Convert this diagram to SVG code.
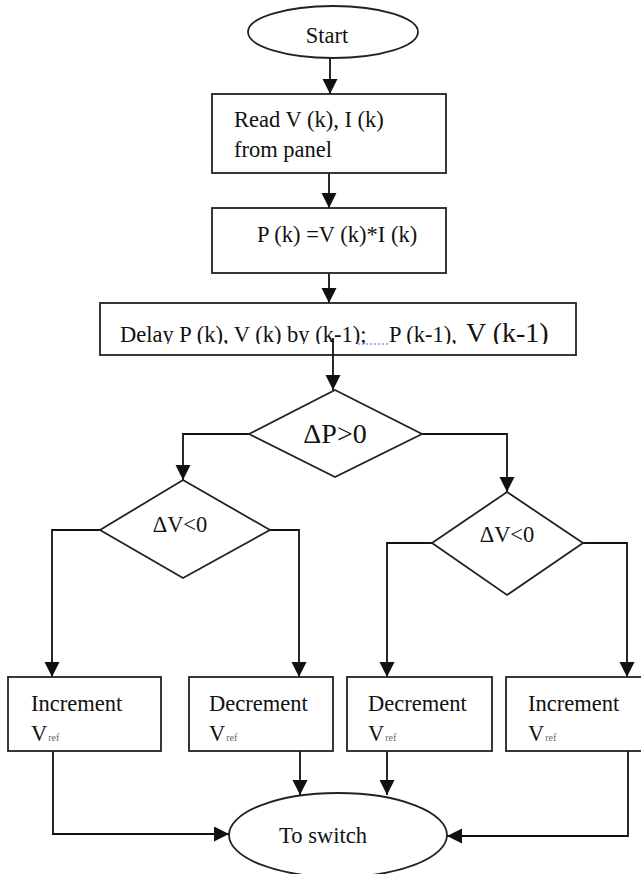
<svg xmlns="http://www.w3.org/2000/svg" width="641" height="874" viewBox="0 0 641 874">
<style>
.shape{fill:#fff;stroke:#222;stroke-width:1.8}
.conn{fill:none;stroke:#111;stroke-width:1.8}
text{font-family:"Liberation Serif","Times New Roman",serif;font-size:22.5px;fill:#111}
.big{font-size:28px}
.sub{font-size:10px;fill:#666}
</style>
<defs>
<marker id="arr" markerUnits="userSpaceOnUse" markerWidth="16" markerHeight="16" refX="15" refY="7.5" orient="auto">
<path d="M0,0 L15,7.5 L0,15 Z" fill="#111"/>
</marker>
<clipPath id="clipDelay"><rect x="100" y="303" width="476" height="41"/></clipPath>
</defs>
<rect width="641" height="874" fill="#fff"/>
<g id="connectors">
<path class="conn" d="M330,58 V94" marker-end="url(#arr)"/>
<path class="conn" d="M329,173 V208" marker-end="url(#arr)"/>
<path class="conn" d="M329,273 V303" marker-end="url(#arr)"/>
<path class="conn" d="M333,338 V390" marker-end="url(#arr)"/>
<path class="conn" d="M249,434 H183 V480" marker-end="url(#arr)"/>
<path class="conn" d="M422,434 H507 V492" marker-end="url(#arr)"/>
<path class="conn" d="M100,530 H52 V677" marker-end="url(#arr)"/>
<path class="conn" d="M270,530 H299 V677" marker-end="url(#arr)"/>
<path class="conn" d="M432,543 H387 V677" marker-end="url(#arr)"/>
<path class="conn" d="M583,543 H627 V677" marker-end="url(#arr)"/>
<path class="conn" d="M53,751 V834 H229" marker-end="url(#arr)"/>
<path class="conn" d="M300,751 V795" marker-end="url(#arr)"/>
<path class="conn" d="M387,751 V795" marker-end="url(#arr)"/>
<path class="conn" d="M628,751 V836 H447" marker-end="url(#arr)"/>
</g>
<g id="start">
<ellipse class="shape" cx="333" cy="32" rx="85" ry="26"/>
<text x="327" y="43" text-anchor="middle">Start</text>
</g>
<g id="read">
<rect class="shape" x="212" y="94" width="234" height="79"/>
<text x="234" y="127">Read V (k), I (k)</text>
<text x="234" y="157">from panel</text>
</g>
<g id="power">
<rect class="shape" x="212" y="208" width="234" height="65"/>
<text x="257" y="242">P (k) =V (k)*I (k)</text>
</g>
<g id="delay">
<rect class="shape" x="100" y="303" width="476" height="52"/>
<g clip-path="url(#clipDelay)">
<text x="120" y="342">Delay P (k), V (k) by (k-1);<tspan x="389">P (k-1), </tspan><tspan class="big" x="466">V (k-1)</tspan></text>
</g>
<path d="M358,344 H389" stroke="#3a6fe0" stroke-width="1" stroke-dasharray="2,2" fill="none"/>
<path class="conn" d="M333,338 V355"/>
</g>
<g id="dp">
<polygon class="shape" points="335,390 422,434 335,477 249,434"/>
<text class="big" x="335" y="443" text-anchor="middle">ΔP&gt;0</text>
</g>
<g id="dv-left">
<polygon class="shape" points="183,480 270,530 183,578 100,530"/>
<text x="180" y="532" text-anchor="middle">ΔV&lt;0</text>
</g>
<g id="dv-right">
<polygon class="shape" points="507,492 583,543 507,595 432,543"/>
<text x="507" y="542" text-anchor="middle">ΔV&lt;0</text>
</g>
<g id="inc-left">
<rect class="shape" x="8" y="677" width="153" height="74"/>
<text x="31" y="711">Increment</text>
<text x="31" y="741">V<tspan class="sub" dx="1">ref</tspan></text>
</g>
<g id="dec-left">
<rect class="shape" x="189" y="677" width="144" height="74"/>
<text x="209" y="711">Decrement</text>
<text x="209" y="741">V<tspan class="sub" dx="1">ref</tspan></text>
</g>
<g id="dec-right">
<rect class="shape" x="347" y="677" width="145" height="74"/>
<text x="368" y="711">Decrement</text>
<text x="368" y="741">V<tspan class="sub" dx="1">ref</tspan></text>
</g>
<g id="inc-right">
<rect class="shape" x="506" y="677" width="140" height="74"/>
<text x="528" y="711">Increment</text>
<text x="528" y="741">V<tspan class="sub" dx="1">ref</tspan></text>
</g>
<g id="switch">
<ellipse class="shape" cx="338" cy="835" rx="109" ry="42"/>
<text x="323" y="843" text-anchor="middle">To switch</text>
</g>
</svg>
